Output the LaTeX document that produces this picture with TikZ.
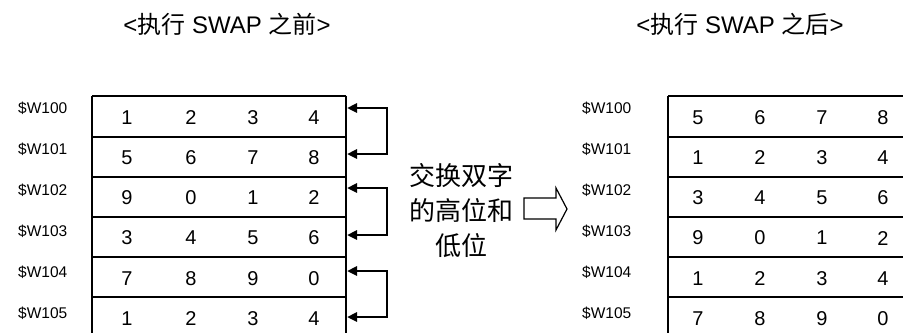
\documentclass[tikz,border=0pt]{standalone}
\usepackage{fontspec}
\setmainfont{Liberation Sans}
\newfontfamily\cjk{Noto Sans CJK SC}
\newcommand\zh[1]{{\cjk #1}}
\usetikzlibrary{arrows.meta}
\begin{document}
\begin{tikzpicture}[x=1pt,y=-1pt,
  thinrule/.style={line width=1.1pt},
  thickrule/.style={line width=2pt},
  digit/.style={font=\fontsize{20}{24}\selectfont, inner sep=0pt},
  addr/.style={font=\fontsize{15.5}{18}\selectfont, anchor=west, inner sep=0pt},
  title/.style={font=\fontsize{24}{28}\selectfont, inner sep=0pt},
  swaparrow/.style={line width=2.5pt, -{Triangle[length=10pt,width=9pt]}},
  link/.style={line width=1.6pt},
  hollow/.style={line width=1.2pt},
]
\useasboundingbox (0,0) rectangle (903,333);

% titles
\node[title] (tb) at (227,24) {<\zh{执行} SWAP \zh{之前}>};
\node[title] (ta) at (740,24) {<\zh{执行} SWAP \zh{之后}>};

% left table
\draw[thinrule] (92,96) -- (346,96);
\draw[thinrule] (92,217) -- (346,217);
\foreach \y in {136.5,177,257,297} \draw[thickrule] (92,\y) -- (346,\y);
\draw[thickrule] (92,95.5) -- (92,333);
\draw[thickrule] (346,95.5) -- (346,333);

% right table
\draw[thinrule] (668,96) -- (903,96);
\draw[thinrule] (668,217) -- (903,217);
\foreach \y in {136.5,177,257,297} \draw[thickrule] (668,\y) -- (903,\y);
\draw[thickrule] (668,95.5) -- (668,333);

% left table contents
\foreach \a/\b/\c/\d [count=\i from 0] in {1/2/3/4,5/6/7/8,9/0/1/2,3/4/5/6,7/8/9/0,1/2/3/4}{
  \node[digit] (La\i) at (127,{117.5+40.2*\i}) {\a};
  \node[digit] (Lb\i) at (191,{117.5+40.2*\i}) {\b};
  \node[digit] (Lc\i) at (253,{117.5+40.2*\i}) {\c};
  \node[digit] (Ld\i) at (314,{117.5+40.2*\i}) {\d};
  \pgfmathtruncatemacro\addrnum{100+\i}
  \node[addr] (Lw\i) at (18,{108+41*\i}) {\$W\addrnum};
}

% right table contents
\foreach \a/\b/\c/\d [count=\i from 0] in {5/6/7/8,1/2/3/4,3/4/5/6,9/0/1/2,1/2/3/4,7/8/9/0}{
  \node[digit] (Ra\i) at (698,{117.5+40.2*\i}) {\a};
  \node[digit] (Rb\i) at (760,{117.5+40.2*\i}) {\b};
  \node[digit] (Rc\i) at (822,{117.5+40.2*\i}) {\c};
  \node[digit] (Rd\i) at (883,{117.5+40.2*\i}) {\d};
  \pgfmathtruncatemacro\addrnum{100+\i}
  \node[addr] (Rw\i) at (582,{108+41*\i}) {\$W\addrnum};
}

% swap brackets
\foreach \k/\ya/\yb in {1/108/154,2/188/235,3/271/317}{
  \coordinate (pa\k) at (387,\ya);
  \coordinate (pb\k) at (387,\yb);
  \coordinate (ta\k) at (347,\ya);
  \coordinate (tb\k) at (347,\yb);
  \draw[link] (pa\k) -- (pb\k);
  \draw[swaparrow] ([xshift=0.8pt]pa\k) -- (ta\k);
  \draw[swaparrow] ([xshift=0.8pt]pb\k) -- (tb\k);
}

% explanation text
\node[font=\cjk\fontsize{26}{35}\selectfont, align=center, inner sep=0pt] (expl) at (461,211)
  {交换双字\\的高位和\\低位};

% hollow arrow
\draw[hollow] (524,198) -- (556,198) -- (556,188) -- (567,209) -- (556,230)
  -- (556,219) -- (524,219) -- cycle;
\end{tikzpicture}
\end{document}
